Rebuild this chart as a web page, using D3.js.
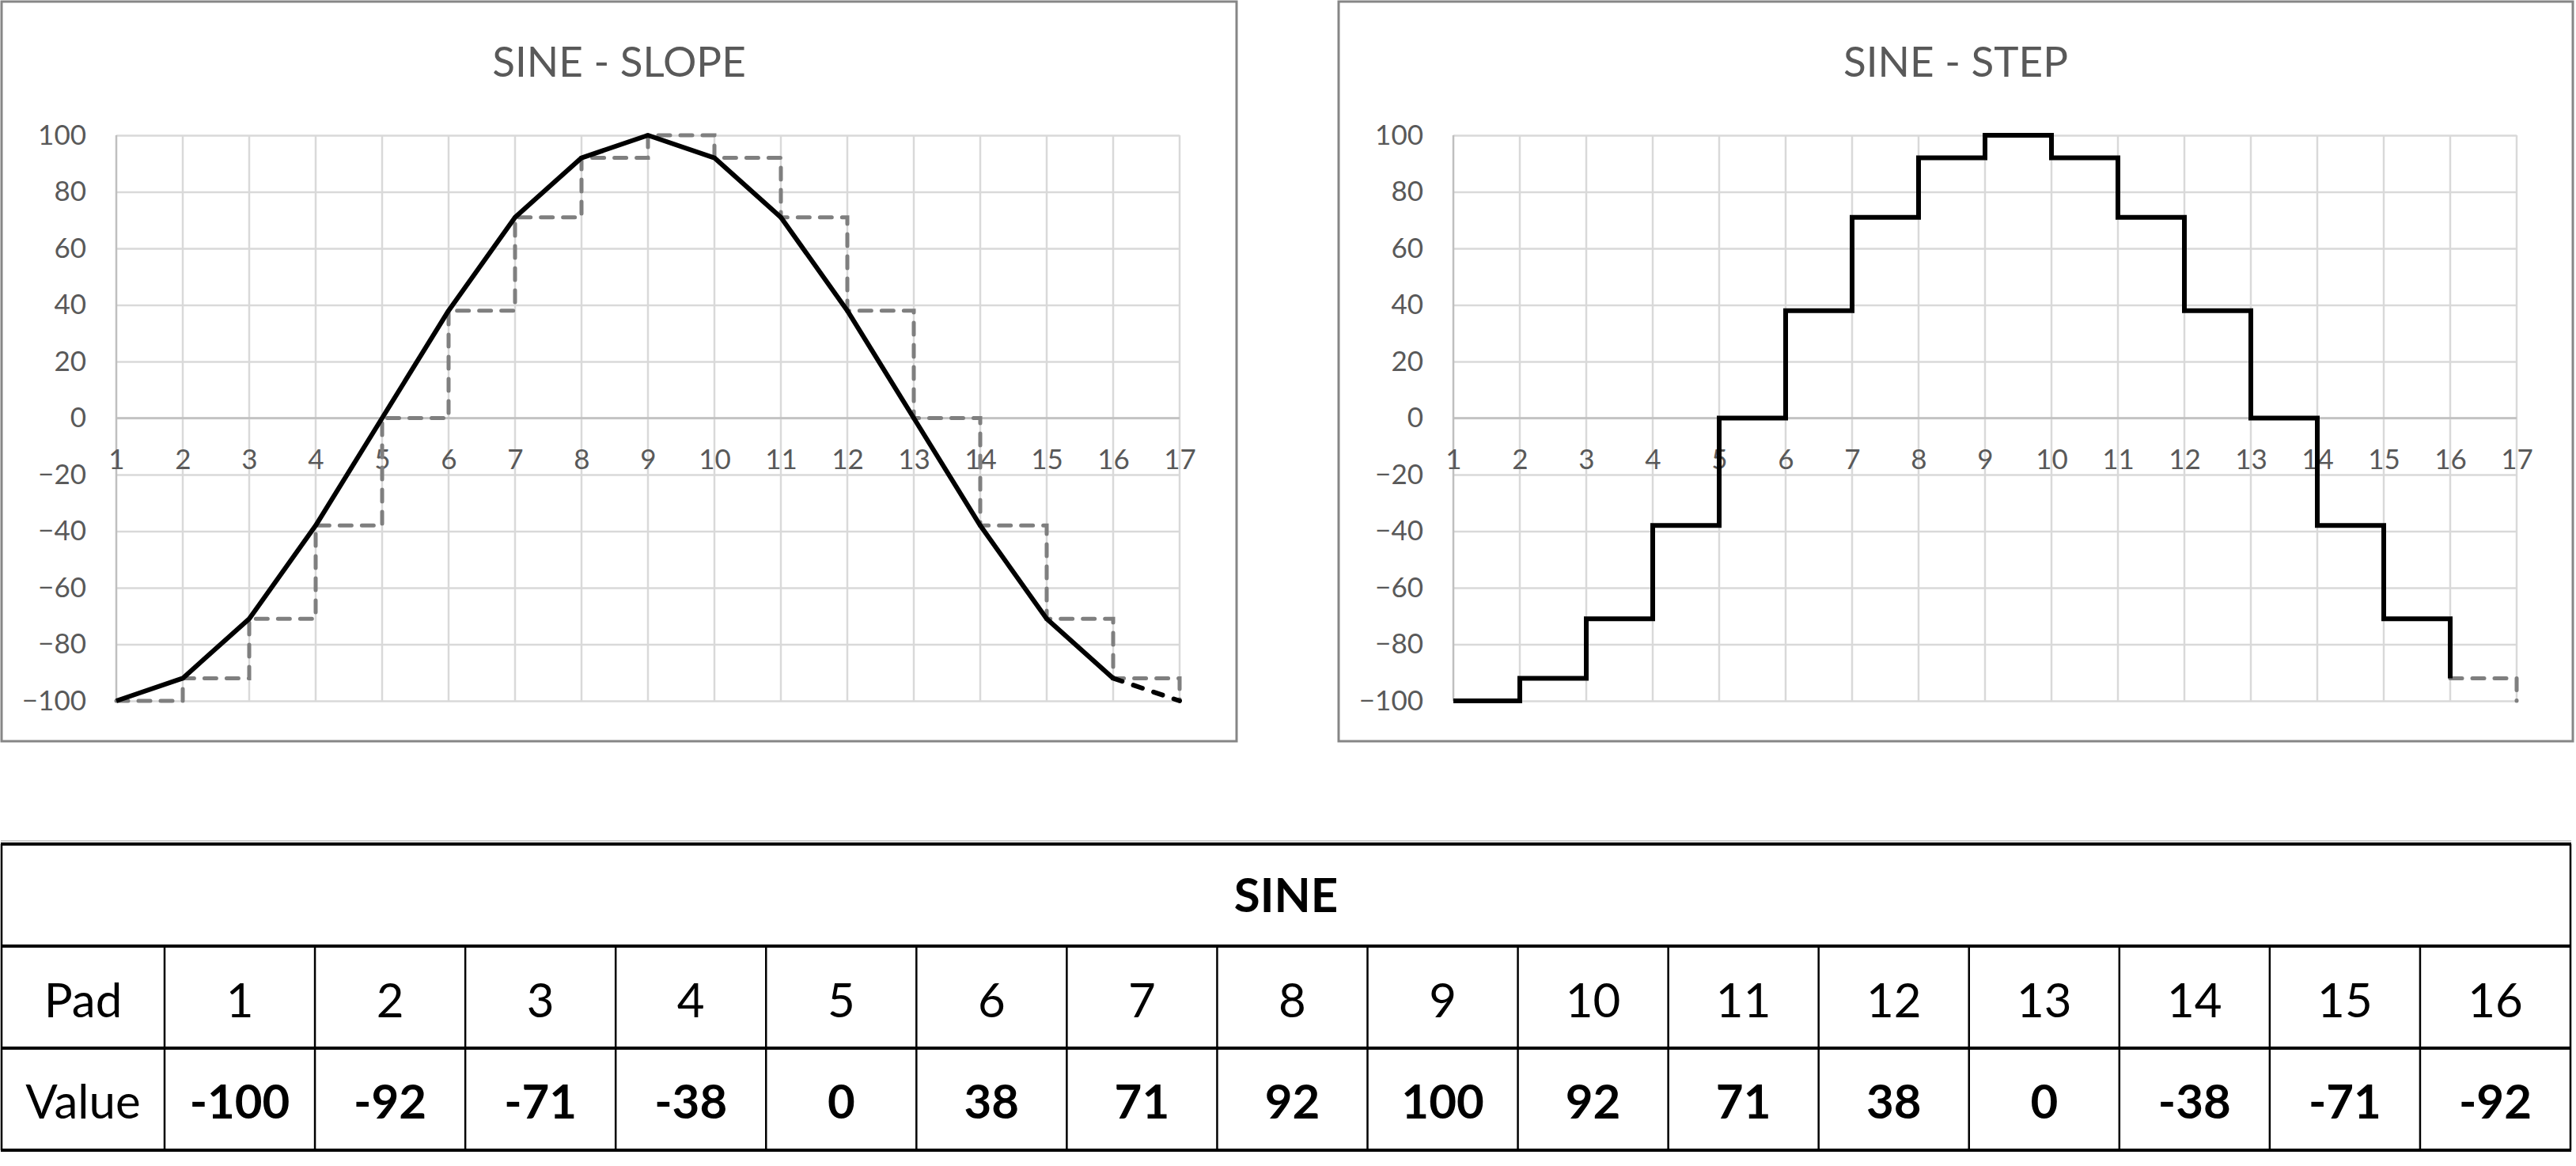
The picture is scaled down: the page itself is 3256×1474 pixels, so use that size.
<!DOCTYPE html>
<html>
<head>
<meta charset="utf-8">
<script src="https://cdn.jsdelivr.net/npm/d3@7"></script>
<style>
  html, body { margin: 0; padding: 0; background: #ffffff; }
  svg { display: block; font-family: Lato, "Open Sans", "Noto Sans", sans-serif; }
</style>
</head>
<body>
<script>

// data
var pads = [1, 2, 3, 4, 5, 6, 7, 8, 9, 10, 11, 12, 13, 14, 15, 16];
var values = [-100, -92, -71, -38, 0, 38, 71, 92, 100, 92, 71, 38, 0, -38, -71, -92];
var wrapPad = 17;        // chart repeats pad 1 at the end
var wrapValue = -100;
var xTicks = [1, 2, 3, 4, 5, 6, 7, 8, 9, 10, 11, 12, 13, 14, 15, 16, 17];
var yTicks = [-100, -80, -60, -40, -20, 0, 20, 40, 60, 80, 100];
var tableTitle = "SINE";
var rowLabels = ["Pad", "Value"];

var W = 3256, H = 1474;

var svg = d3.select("body").append("svg")
    .attr("width", W)
    .attr("height", H);

var points = pads.map(function(p, i) { return [p, values[i]]; });
var wrapPoint = [wrapPad, wrapValue];

function drawChart(left, right, title, kind) {

  var g = svg.append("g");

  //frame
  g.append("rect")
      .attr("x", left)
      .attr("y", 2)
      .attr("width", right - left)
      .attr("height", 935)
      .attr("fill", "#ffffff")
      .attr("stroke", "#868686")
      .attr("stroke-width", 3);

  g.append("text")
      .attr("x", (left + right) / 2)
      .attr("y", 97)
      .attr("text-anchor", "middle")
      .attr("fill", "#595959")
      .attr("font-size", 53)
      .text(title);

  var plotLeft = left + 145;
  var x = d3.scaleLinear().domain([1, 17]).range([plotLeft, plotLeft + 16 * 84]);
  var y = d3.scaleLinear().domain([-100, 100]).range([886, 171]);

  //horizontal grid + labels
  var yAxis = g.append("g")
      .attr("transform", "translate(" + x(1) + ",0)")
      .call(d3.axisLeft(y)
        .tickValues(yTicks)
        .tickSizeInner(-(x(17) - x(1)))
        .tickSizeOuter(0)
        .tickPadding(38));
  yAxis.select(".domain").remove();
  yAxis.selectAll("line")
      .attr("stroke", "#d9d9d9")
      .attr("stroke-width", 2.5);
  yAxis.selectAll("text")
      .attr("fill", "#595959")
      .attr("font-size", 35)
      .attr("font-family", "Lato, 'Open Sans', sans-serif");

  //vertical grid
  g.append("g").selectAll("line")
      .data(xTicks)
      .enter().append("line")
      .attr("x1", function(d) { return x(d); })
      .attr("x2", function(d) { return x(d); })
      .attr("y1", y(100))
      .attr("y2", y(-100))
      .attr("stroke", function(d) { return d === 1 ? "#bfbfbf" : "#d9d9d9"; })
      .attr("stroke-width", 2.5);

  //zero line drawn again on top of vertical grid
  g.append("line")
      .attr("x1", x(1))
      .attr("x2", x(17))
      .attr("y1", y(0))
      .attr("y2", y(0))
      .attr("stroke", "#bfbfbf")
      .attr("stroke-width", 2.5);

  var xAxis = g.append("g")
      .attr("transform", "translate(0," + y(0) + ")")
      .call(d3.axisBottom(x)
        .tickValues(xTicks)
        .tickFormat(d3.format("d"))
        .tickSize(0)
        .tickPadding(40));
  xAxis.select(".domain").remove();
  xAxis.selectAll("text")
      .attr("fill", "#595959")
      .attr("font-size", 35)
      .attr("font-family", "Lato, 'Open Sans', sans-serif");

  var line = d3.line()
      .x(function(d) { return x(d[0]); })
      .y(function(d) { return y(d[1]); });
  var step = d3.line()
      .curve(d3.curveStepAfter)
      .x(function(d) { return x(d[0]); })
      .y(function(d) { return y(d[1]); });

  if (kind === "slope") {
    //gray dashed step underneath
    g.append("path")
        .attr("d", step(points.concat([wrapPoint])))
        .attr("fill", "none")
        .attr("stroke", "#7f7f7f")
        .attr("stroke-width", 5)
        .attr("stroke-dasharray", "15,13")
        .attr("stroke-linecap", "round");

    g.append("path")
        .attr("d", line(points))
        .attr("fill", "none")
        .attr("stroke", "#000000")
        .attr("stroke-width", 6)
        .attr("stroke-linejoin", "round");

    g.append("path")
        .attr("d", line([points[points.length - 1], wrapPoint]))
        .attr("fill", "none")
        .attr("stroke", "#000000")
        .attr("stroke-width", 6)
        .attr("stroke-dasharray", "12,15")
        .attr("stroke-linecap", "round");
  } else {
    g.append("path")
        .attr("d", step([points[points.length - 1], wrapPoint]))
        .attr("fill", "none")
        .attr("stroke", "#7f7f7f")
        .attr("stroke-width", 5)
        .attr("stroke-dasharray", "15,13")
        .attr("stroke-linecap", "round");

    g.append("path")
        .attr("d", step(points))
        .attr("fill", "none")
        .attr("stroke", "#000000")
        .attr("stroke-width", 6)
        .attr("stroke-linejoin", "miter");
  }
}

drawChart(2, 1563, "SINE - SLOPE", "slope");
drawChart(1692, 3252, "SINE - STEP", "step");

//the table
var tLeft = 2, tRight = 3249;
var rowY = [1067, 1196, 1325, 1454];
var col = d3.scaleBand().domain(pads).range([208, tRight]);

var table = svg.append("g");

table.append("rect")
    .attr("x", tLeft)
    .attr("y", rowY[0])
    .attr("width", tRight - tLeft)
    .attr("height", rowY[3] - rowY[0])
    .attr("fill", "#ffffff");

//vertical rules
var vx = [tLeft, 208].concat(pads.map(function(p) { return col(p) + col.bandwidth(); }));
table.selectAll("line.v")
    .data(vx)
    .enter().append("line")
    .attr("class", "v")
    .attr("x1", function(d) { return d; })
    .attr("x2", function(d) { return d; })
    .attr("y1", function(d, i) { return (i === 0 || i === vx.length - 1) ? rowY[0] : rowY[1]; })
    .attr("y2", rowY[3])
    .attr("stroke", "#000000")
    .attr("stroke-width", 2.5);

//horizontal rules, thin gray shadow above the top one
table.append("line")
    .attr("x1", tLeft - 1)
    .attr("x2", tRight + 1)
    .attr("y1", rowY[0] - 4)
    .attr("y2", rowY[0] - 4)
    .attr("stroke", "#bfbfbf")
    .attr("stroke-width", 1.5);

table.selectAll("line.h")
    .data(rowY)
    .enter().append("line")
    .attr("class", "h")
    .attr("x1", tLeft - 1)
    .attr("x2", tRight + 1)
    .attr("y1", function(d) { return d; })
    .attr("y2", function(d) { return d; })
    .attr("stroke", "#000000")
    .attr("stroke-width", 4);

table.append("text")
    .attr("x", (tLeft + tRight) / 2)
    .attr("y", 1153)
    .attr("text-anchor", "middle")
    .attr("font-size", 60)
    .attr("font-weight", "bold")
    .text(tableTitle);

table.selectAll("text.rowlabel")
    .data(rowLabels)
    .enter().append("text")
    .attr("class", "rowlabel")
    .attr("x", (tLeft + 208) / 2)
    .attr("y", function(d, i) { return i === 0 ? 1286 : 1414; })
    .attr("text-anchor", "middle")
    .attr("font-size", 60)
    .text(function(d) { return d; });

table.selectAll("text.pad")
    .data(pads)
    .enter().append("text")
    .attr("class", "pad")
    .attr("x", function(d) { return col(d) + col.bandwidth() / 2; })
    .attr("y", 1286)
    .attr("text-anchor", "middle")
    .attr("font-size", 60)
    .text(function(d) { return d; });

table.selectAll("text.val")
    .data(values)
    .enter().append("text")
    .attr("class", "val")
    .attr("x", function(d, i) { return col(pads[i]) + col.bandwidth() / 2; })
    .attr("y", 1414)
    .attr("text-anchor", "middle")
    .attr("font-size", 60)
    .attr("font-weight", "bold")
    .text(function(d) { return d; });

</script>
</body>
</html>
